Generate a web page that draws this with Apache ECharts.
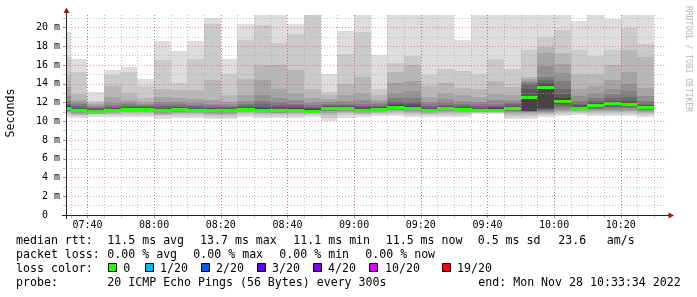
<!DOCTYPE html>
<html><head><meta charset="utf-8">
<script src="https://cdn.jsdelivr.net/npm/echarts@6/dist/echarts.min.js"></script>
<style>html,body{margin:0;padding:0;background:#fff}#c{width:697px;height:297px}</style>
</head><body><div id="c"></div>
<script>
// ---------------- data ----------------
const startTime = '07:33:34';
const endTime = '10:33:34';
// end of each 300 s step (RRD timestamps)
const stepEnds = ['07:35','07:40','07:45','07:50','07:55','08:00','08:05','08:10','08:15','08:20','08:25','08:30',
  '08:35','08:40','08:45','08:50','08:55','09:00','09:05','09:10','09:15','09:20','09:25','09:30',
  '09:35','09:40','09:45','09:50','09:55','10:00','10:05','10:10','10:15','10:20','10:25','10:30'];
// median rtt (ms)
const median = [11.43,11.17,11.07,11.17,11.32,11.34,11.17,11.30,11.24,11.19,11.17,11.34,
  11.19,11.17,11.26,11.15,11.43,11.39,11.19,11.32,11.55,11.46,11.20,11.37,
  11.30,11.24,11.24,11.44,12.59,13.71,12.15,11.43,11.72,11.94,11.80,11.55];
// lost pings per step (of 20)
const loss = [0,0,0,0,0,0,0,0,0,0,0,0,0,0,0,0,0,0,0,0,0,0,0,0,0,0,0,0,0,0,0,0,0,0,0,0];
// sorted pings: lower half p1..p10 and upper half p20..p11 (ms)
const pingsLow = [
  [10.5,10.7,10.85,10.95,11.05,11.15,11.2,11.25,11.3,11.36],
  [10.4,10.6,10.7,10.8,10.9,10.95,11.0,11.05,11.1,11.13],
  [10.5,10.65,10.75,10.82,10.88,10.92,10.96,10.99,11.01,11.03],
  [10.5,10.65,10.78,10.88,10.95,11.0,11.05,11.08,11.1,11.13],
  [10.5,10.7,10.85,10.95,11.05,11.12,11.18,11.22,11.26,11.28],
  [10.5,10.7,10.85,10.95,11.05,11.12,11.18,11.23,11.27,11.3],
  [10.3,10.55,10.7,10.8,10.9,10.97,11.03,11.07,11.1,11.13],
  [10.4,10.6,10.8,10.9,11.0,11.08,11.15,11.2,11.23,11.26],
  [10.4,10.6,10.75,10.85,10.95,11.02,11.08,11.13,11.17,11.2],
  [10.3,10.5,10.65,10.75,10.85,10.95,11.02,11.08,11.12,11.15],
  [10.3,10.5,10.65,10.78,10.88,10.95,11.02,11.07,11.1,11.13],
  [10.5,10.7,10.85,10.95,11.05,11.12,11.18,11.23,11.27,11.3],
  [10.4,10.6,10.75,10.85,10.95,11.02,11.07,11.11,11.14,11.16],
  [10.4,10.6,10.75,10.85,10.93,11.0,11.05,11.09,11.12,11.14],
  [10.4,10.6,10.8,10.9,11.0,11.07,11.12,11.16,11.19,11.22],
  [10.5,10.65,10.78,10.88,10.95,11.0,11.05,11.08,11.11,11.13],
  [10.0,10.4,10.7,10.9,11.05,11.15,11.25,11.32,11.36,11.39],
  [10.4,10.65,10.85,10.98,11.08,11.16,11.22,11.28,11.32,11.35],
  [10.5,10.65,10.78,10.88,10.96,11.02,11.07,11.11,11.14,11.16],
  [10.6,10.8,10.92,11.0,11.07,11.13,11.18,11.23,11.26,11.28],
  [10.6,10.8,10.95,11.08,11.18,11.27,11.35,11.42,11.47,11.5],
  [10.5,10.7,10.88,11.0,11.1,11.2,11.28,11.34,11.39,11.42],
  [10.5,10.65,10.78,10.88,10.96,11.03,11.08,11.12,11.15,11.17],
  [10.5,10.7,10.86,10.98,11.08,11.16,11.22,11.28,11.32,11.34],
  [10.5,10.7,10.85,10.96,11.05,11.12,11.18,11.22,11.25,11.27],
  [10.8,10.9,10.98,11.04,11.09,11.13,11.16,11.18,11.2,11.21],
  [10.8,10.9,10.98,11.04,11.09,11.13,11.16,11.18,11.2,11.21],
  [10.3,10.5,10.7,10.85,10.98,11.1,11.2,11.3,11.36,11.4],
  [10.3,10.5,10.7,10.85,10.95,11.0,11.05,11.1,11.15,12.5],
  [10.5,10.65,10.8,10.9,11.0,11.1,11.2,11.3,11.4,13.6],
  [10.6,10.8,10.95,11.1,11.25,11.4,11.6,11.8,12.0,12.1],
  [10.7,10.85,10.98,11.08,11.16,11.23,11.29,11.34,11.37,11.39],
  [10.6,10.8,10.96,11.1,11.22,11.34,11.45,11.55,11.63,11.68],
  [10.6,10.8,10.97,11.12,11.26,11.4,11.55,11.7,11.82,11.9],
  [10.6,10.8,10.96,11.1,11.24,11.37,11.5,11.62,11.71,11.76],
  [10.5,10.7,10.87,11.0,11.12,11.24,11.35,11.44,11.5,11.52]
];
const pingsHigh = [
  [19.5,16.9,14.9,13.7,12.7,12.2,11.9,11.7,11.6,11.5],
  [16.7,15.3,12.9,12.3,12.0,11.8,11.6,11.45,11.35,11.25],
  [13.1,12.2,12.0,11.8,11.65,11.5,11.4,11.3,11.2,11.12],
  [15.5,14.9,13.8,12.6,12.0,11.7,11.55,11.4,11.3,11.22],
  [15.8,15.3,13.0,12.3,12.0,11.8,11.65,11.55,11.45,11.37],
  [14.5,13.8,12.5,12.1,11.9,11.75,11.6,11.5,11.45,11.39],
  [18.6,16.5,13.5,12.6,12.1,11.8,11.6,11.45,11.35,11.22],
  [17.5,14.1,13.3,12.5,12.1,11.8,11.65,11.5,11.42,11.35],
  [18.6,16.7,13.3,12.4,12.0,11.75,11.6,11.45,11.35,11.28],
  [21.0,20.4,14.4,12.3,11.9,11.7,11.55,11.4,11.3,11.23],
  [16.7,15.1,12.8,12.1,11.8,11.6,11.5,11.4,11.3,11.21],
  [20.4,18.7,14.5,12.8,12.2,11.9,11.7,11.55,11.45,11.38],
  [22.5,20.3,16.0,14.4,12.8,12.2,11.8,11.55,11.4,11.24],
  [22.8,18.4,16.0,13.5,12.5,12.0,11.7,11.5,11.35,11.22],
  [20.4,19.3,15.5,13.0,12.3,11.9,11.7,11.55,11.42,11.31],
  [24.0,22.0,13.5,12.5,12.0,11.7,11.5,11.4,11.3,11.2],
  [15.1,13.1,12.8,12.4,12.1,11.9,11.75,11.62,11.55,11.48],
  [19.6,17.2,14.0,12.8,12.2,11.9,11.7,11.6,11.5,11.44],
  [22.5,19.5,14.7,13.0,12.3,11.9,11.65,11.5,11.35,11.24],
  [17.1,13.5,12.8,12.3,12.0,11.8,11.65,11.52,11.43,11.37],
  [23.0,16.2,15.3,14.1,13.0,12.5,12.1,11.85,11.7,11.6],
  [22.5,17.0,16.0,14.3,13.2,12.5,12.0,11.8,11.6,11.51],
  [22.0,14.9,13.8,12.6,12.1,11.8,11.6,11.45,11.33,11.25],
  [22.0,15.6,14.1,13.0,12.4,12.0,11.75,11.6,11.5,11.42],
  [18.7,15.4,13.6,12.8,12.2,11.9,11.7,11.55,11.43,11.35],
  [22.0,15.1,13.5,12.6,12.1,11.8,11.6,11.45,11.35,11.29],
  [22.0,16.7,14.3,12.9,12.3,11.9,11.65,11.5,11.38,11.29],
  [22.0,15.6,13.7,12.8,12.3,12.0,11.8,11.65,11.55,11.49],
  [22.0,17.6,14.7,14.5,14.3,14.1,13.9,13.5,12.7,12.63],
  [22.0,19.0,17.9,17.3,15.9,14.7,14.4,14.1,13.9,13.76],
  [22.0,19.8,17.3,16.1,15.2,14.3,13.5,12.9,12.5,12.2],
  [20.7,17.6,15.0,13.5,12.7,12.2,11.9,11.7,11.55,11.48],
  [22.0,17.0,15.1,13.8,13.0,12.5,12.2,12.0,11.85,11.77],
  [20.9,17.6,16.0,14.4,13.5,12.9,12.5,12.2,12.05,11.98],
  [22.0,20.0,17.6,15.3,14.0,13.2,12.6,12.2,11.95,11.85],
  [22.0,18.3,16.9,13.6,12.7,12.2,11.9,11.75,11.66,11.6]
];
const xTickLabels = ['07:40','08:00','08:20','08:40','09:00','09:20','09:40','10:00','10:20'];
const yTickValues = [0,2,4,6,8,10,12,14,16,18,20];
const yTickLabels = ['0  ','2 m','4 m','6 m','8 m','10 m','12 m','14 m','16 m','18 m','20 m'];
const yMinorValues = [1,3,5,7,9,11,13,15,17,19,21];
const yMax = 21.35;
const lossThresholds = [0,1,2,3,4,10,19];
const lossLabels = ['0','1/20','2/20','3/20','4/20','10/20','19/20'];
const lossColors = ['#26ff00','#00b8ff','#0059ff','#5e00ff','#7e00ff','#dd00ff','#ff0000'];
const statsMedian = ['median rtt:','11.5 ms avg','13.7 ms max','11.1 ms min','11.5 ms now','0.5 ms sd','23.6','am/s'];
const statsLoss = ['packet loss:','0.00 % avg','0.00 % max','0.00 % min','0.00 % now'];
const probeText = ['probe:','20 ICMP Echo Pings (56 Bytes) every 300s','end: Mon Nov 28 10:33:34 2022'];

// ---------------- helpers ----------------
function toMin(s){const p=s.split(':').map(Number);return p[0]*60+p[1]+(p[2]||0)/60;}
const xMin = toMin(startTime), xMax = toMin(endTime);
const minorX = stepEnds.map(toMin);
const majorX = xTickLabels.map(toMin);
function lossColor(l){let c=lossColors[0];lossThresholds.forEach((t,i)=>{if(l>=t)c=lossColors[i];});return c;}
function gray(k){const v=Math.floor(190/10*(10-(k+1)))+50;return 'rgb('+v+','+v+','+v+')';}

const MONO='"DejaVu Sans Mono", monospace';
const minorGrid='rgba(170,170,170,0.7)';
const majorGrid='rgba(255,0,0,0.4)';

const chart = echarts.init(document.getElementById('c'), null, {renderer:'canvas'});

function clipTo(params, r){
  const cs=params.coordSys;
  return echarts.graphic.clipRectByRect(r,{x:cs.x,y:cs.y,width:cs.width,height:cs.height});
}

const smokeItem = function(params, api){
  const i = api.value(0);
  const tEnd = toMin(stepEnds[i]);
  const x0 = Math.round(api.coord([tEnd-5,0])[0]);
  const x1 = Math.round(api.coord([tEnd,0])[0]);
  const children=[];
  for(let k=0;k<10;k++){
    const yLo=Math.round(api.coord([tEnd,pingsLow[i][k]])[1]);
    const yHi=Math.round(api.coord([tEnd,pingsHigh[i][k]])[1]);
    const r=clipTo(params,{x:x0,y:yHi,width:x1-x0,height:yLo-yHi});
    if(r) children.push({type:'rect',shape:r,style:{fill:gray(k)}});
  }
  return {type:'group',children};
};
const medianItem = function(params, api){
  const i = api.value(0);
  const tEnd = toMin(stepEnds[i]);
  const x0 = Math.round(api.coord([tEnd-5,0])[0]);
  const x1 = Math.round(api.coord([tEnd,0])[0]);
  const y = Math.round(api.coord([tEnd,median[i]])[1]);
  const r=clipTo(params,{x:x0,y:y-1,width:x1-x0,height:3});
  if(!r) return null;
  return {type:'rect',shape:r,style:{fill:lossColor(loss[i])}};
};

// legend graphics
const g=[];
function txt(text,x,y,extra){g.push(Object.assign({type:'text',x:x,y:y,z:100,style:{text:text,font:'11.6px '+MONO,fill:'#000',align:'left',verticalAlign:'middle'}},extra||{}));}
const row1X=[16,107.3,200,293.3,385.7,477.7,558.3,606.7];
statsMedian.forEach((t,i)=>txt(t,row1X[i],241));
const row2X=[16,107.3,193.3,279.3,365.3];
statsLoss.forEach((t,i)=>txt(t,row2X[i],255));
txt('loss color:',16,269);
const boxX=[108.3,145,200.7,256.7,312.7,368.7,442.3];
const boxLabelX=[123.3,160,216,272,328,385,457];
lossLabels.forEach((t,i)=>{
  g.push({type:'rect',z:100,shape:{x:Math.round(boxX[i])+0.5,y:263.5,width:8,height:8},style:{fill:lossColors[i],stroke:'#000',lineWidth:1}});
  txt(t,boxLabelX[i],269);
});
txt(probeText[0],16,283);
txt(probeText[1],107.3,283);
txt(probeText[2],478.3,283);
// axis title & watermark
g.push({type:'text',x:10.5,y:113,rotation:Math.PI/2,z:100,style:{text:'Seconds',font:'11.6px '+MONO,fill:'#000',align:'center',verticalAlign:'middle'}});
g.push({type:'text',x:688,y:59,rotation:-Math.PI/2,z:100,style:{text:'RRDTOOL / TOBI OETIKER',font:'8px '+MONO,fill:'#b4b4b4',align:'center',verticalAlign:'middle'}});
// axis lines with arrows
g.push({type:'line',z:100,shape:{x1:62,y1:215.5,x2:669,y2:215.5},style:{stroke:'#222',lineWidth:1}});
g.push({type:'line',z:100,shape:{x1:66.5,y1:219,x2:66.5,y2:12},style:{stroke:'#222',lineWidth:1}});
g.push({type:'polygon',z:101,shape:{points:[[63.5,13],[66.5,7.5],[69.5,13]]},style:{fill:'#a01818'}});
g.push({type:'polygon',z:101,shape:{points:[[668.5,212.5],[674,215.5],[668.5,218.5]]},style:{fill:'#a01818'}});

const axisCommon = {type:'value',min:xMin,max:xMax,position:'bottom',axisLine:{show:false}};
chart.setOption({
  animation:false,
  backgroundColor:'#fff',
  grid:{left:66,top:15,width:600,height:200,containLabel:false},
  xAxis:[
    Object.assign({},axisCommon,{z:5,
      axisTick:{show:true,customValues:minorX,length:3,inside:false,lineStyle:{color:minorGrid}},
      axisLabel:{show:false},
      splitLine:{show:true,lineStyle:{color:minorGrid,type:[1,2],width:1}}}),
    Object.assign({},axisCommon,{z:6,
      axisTick:{show:true,customValues:majorX,length:3,lineStyle:{color:majorGrid}},
      axisLabel:{show:true,customValues:majorX,margin:5,fontFamily:'DejaVu Sans Mono',fontSize:10,color:'#000',
        formatter:function(v){const i=majorX.findIndex(m=>Math.abs(m-v)<1e-6);return i>=0?xTickLabels[i]:'';}},
      splitLine:{show:true,lineStyle:{color:majorGrid,type:[1,2],width:1}}})
  ],
  yAxis:[
    {type:'value',min:0,max:yMax,z:5,position:'left',axisLine:{show:false},
      axisTick:{show:true,customValues:yMinorValues,length:3,lineStyle:{color:minorGrid}},
      axisLabel:{show:false},
      splitLine:{show:true,lineStyle:{color:minorGrid,type:[1,2],width:1}}},
    {type:'value',min:0,max:yMax,z:6,position:'left',axisLine:{show:false},
      axisTick:{show:true,customValues:yTickValues.filter(v=>v>0),length:3,lineStyle:{color:'#999'}},
      axisLabel:{show:true,customValues:yTickValues,margin:6,fontFamily:'DejaVu Sans Mono',fontSize:10,color:'#000',
        formatter:function(v){const i=yTickValues.indexOf(Math.round(v));return i>=0?yTickLabels[i]:'';}},
      splitLine:{show:true,lineStyle:{color:majorGrid,type:[1,2],width:1}}}
  ],
  series:[
    {type:'custom',name:'smoke',xAxisIndex:1,yAxisIndex:1,z:2,renderItem:smokeItem,
      data:stepEnds.map((t,i)=>[i]),silent:true,clip:true},
    {type:'custom',name:'median',xAxisIndex:1,yAxisIndex:1,z:3,renderItem:medianItem,
      data:stepEnds.map((t,i)=>[i]),silent:true,clip:true}
  ],
  graphic:{elements:g}
});
</script></body></html>
